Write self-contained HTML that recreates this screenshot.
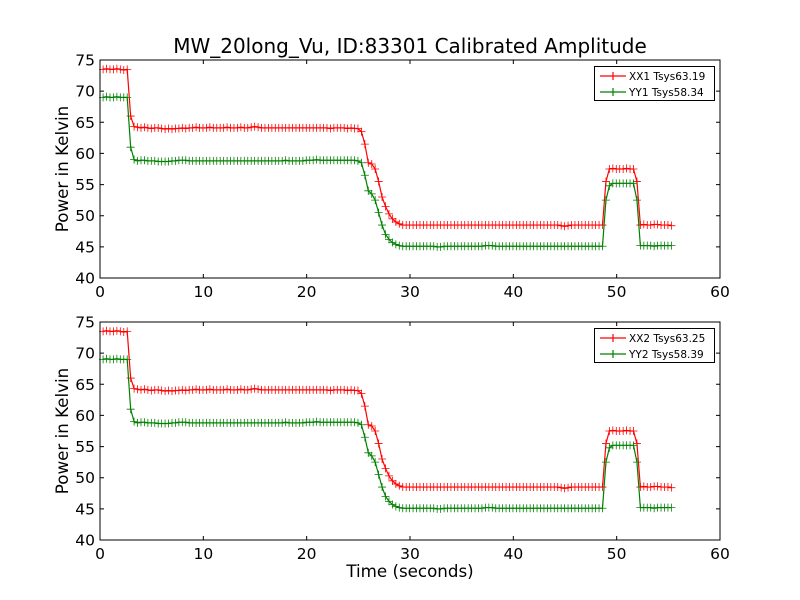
<!DOCTYPE html>
<html><head><meta charset="utf-8"><style>
body{margin:0;background:#fff;}
svg{display:block;font-family:"DejaVu Sans","Liberation Sans",sans-serif;}
</style></head><body>
<svg id="fig" width="800" height="600" viewBox="0 0 800 600">
<rect width="800" height="600" fill="#fff"/>
<text x="410" y="53" font-size="20" text-anchor="middle">MW_20long_Vu, ID:83301 Calibrated Amplitude</text>
<g id="p1"></g>
<g id="p2"></g>
<text x="410" y="577" font-size="16.7" text-anchor="middle">Time (seconds)</text>
</svg>
<script>
const xTicks=[0,10,20,30,40,50,60];
const yTicks=[40,45,50,55,60,65,70,75];
const t0=0.3, dt=0.3333;
const xx1=[73.5,73.6,73.5,73.5,73.6,73.5,73.4,73.5,66.0,64.3,
64.2,64.1,64.2,64.1,64.0,64.1,64.1,64.0,63.9,64.0,63.9,64.0,64.0,64.1,64.0,64.1,64.1,64.2,64.1,64.1,
64.1,64.2,64.1,64.1,64.1,64.1,64.2,64.1,64.1,64.1,64.2,64.1,64.1,64.2,64.3,64.2,64.1,64.1,64.1,64.1,
64.1,64.1,64.1,64.1,64.1,64.1,64.1,64.1,64.1,64.1,64.1,64.1,64.1,64.1,64.1,64.1,64.0,64.1,64.1,64.1,
64.1,64.0,64.1,64.0,64.0,
63.5,61.5,58.5,58.3,57.5,55.5,53.0,51.5,50.3,49.5,49.0,48.7,
48.5,48.5,48.5,48.5,48.5,48.5,48.5,48.5,48.5,48.5,48.5,48.5,48.5,48.5,48.5,48.5,48.5,48.5,48.5,48.5,
48.5,48.5,48.5,48.5,48.5,48.5,48.5,48.5,48.5,48.5,48.5,48.5,48.5,48.5,48.5,48.5,48.5,48.5,48.5,48.5,
48.5,48.5,48.5,48.5,48.5,48.5,48.4,48.3,48.4,48.5,48.5,48.5,48.5,48.5,48.5,48.5,48.5,48.5,48.5,
55.5,57.5,57.6,57.5,57.5,57.5,57.6,57.5,57.5,55.5,
48.5,48.6,48.5,48.5,48.6,48.6,48.5,48.5,48.5,48.4];
const yy1=[69.0,69.1,69.0,69.0,69.1,69.0,69.0,69.0,61.0,59.0,
58.8,58.9,58.9,58.8,58.8,58.8,58.7,58.7,58.7,58.7,58.8,58.8,58.9,58.9,58.9,58.8,58.8,58.8,58.8,58.8,
58.8,58.8,58.8,58.8,58.8,58.8,58.8,58.8,58.8,58.8,58.8,58.8,58.8,58.8,58.8,58.8,58.8,58.8,58.8,58.8,
58.8,58.8,58.8,58.9,58.8,58.8,58.8,58.8,58.8,58.9,58.9,58.9,59.0,58.9,58.9,58.9,58.9,58.9,58.9,58.9,
58.9,58.9,58.9,58.9,58.8,
58.5,56.5,54.0,53.5,52.5,50.5,48.5,47.0,46.2,45.7,45.4,45.2,
45.1,45.1,45.1,45.1,45.1,45.1,45.1,45.1,45.1,45.1,45.0,45.0,45.1,45.1,45.1,45.1,45.1,45.1,45.1,45.1,
45.1,45.1,45.1,45.1,45.2,45.2,45.2,45.1,45.1,45.1,45.1,45.1,45.1,45.1,45.1,45.1,45.1,45.1,45.1,45.1,
45.1,45.1,45.1,45.1,45.1,45.1,45.1,45.1,45.1,45.1,45.1,45.1,45.1,45.1,45.1,45.1,45.1,45.1,45.1,
52.5,54.8,55.2,55.2,55.2,55.2,55.2,55.2,55.2,52.5,
45.2,45.2,45.2,45.2,45.1,45.2,45.2,45.2,45.2,45.2];
const xx2=xx1.map(v=>v);
const yy2=yy1.map(v=>v);
const legend1=["XX1 Tsys63.19","YY1 Tsys58.34"];
const legend2=["XX2 Tsys63.25","YY2 Tsys58.39"];
const NS="http://www.w3.org/2000/svg";
function mk(tag,attrs,parent){const e=document.createElementNS(NS,tag);for(const k in attrs)e.setAttribute(k,attrs[k]);parent.appendChild(e);return e;}
function panel(g,top,s1,s2,leg){
  const L=100,R=720,T=top,B=top+218;
  const X=v=>L+(v-0)/(60-0)*(R-L);
  const Y=v=>B-(v-40)/(75-40)*(B-T);
  [[s1,"#ff0000","xx"],[s2,"#008000","yy"]].forEach(([s,c,n])=>{
    let d="";
    s.forEach((v,i)=>{d+=(i?"L":"M")+X(t0+i*dt).toFixed(2)+","+Y(v).toFixed(2);});
    const p=mk("path",{d:d,fill:"none",stroke:c,"stroke-width":1.2},g);
    
    
    let m="";
    s.forEach((v,i)=>{const x=X(t0+i*dt),y=Y(v);m+=`M${(x-4).toFixed(2)},${y.toFixed(2)}h8M${x.toFixed(2)},${(y-4).toFixed(2)}v8`;});
    const mp=mk("path",{d:m,fill:"none",stroke:c,"stroke-width":0.8},g);
    
    
  });
  const fr=mk("rect",{x:L,y:T,width:R-L,height:B-T,fill:"none",stroke:"#000","stroke-width":1},g);
  
  
  xTicks.forEach(v=>{
    const x=X(v);
    mk("path",{d:`M${x},${B}v-4M${x},${T}v4`,stroke:"#000","stroke-width":1},g);
    const tx=mk("text",{x:x,y:B+19,"font-size":15.5,"text-anchor":"middle"},g);tx.textContent=v;
    
    
  });
  yTicks.forEach(v=>{
    const y=Y(v);
    mk("path",{d:`M${L},${y}h4M${R},${y}h-4`,stroke:"#000","stroke-width":1},g);
    const ty=mk("text",{x:L-5,y:y+5.5,"font-size":15.5,"text-anchor":"end"},g);ty.textContent=v;
    
    
  });
  const cy=(T+B)/2;
  const yl=mk("text",{x:68,y:cy,"font-size":16.7,"text-anchor":"middle",transform:`rotate(-90 68 ${cy})`},g);
  yl.textContent="Power in Kelvin";
  
  
  const lg=mk("g",{},g);
  
  
  mk("rect",{x:594.5,y:T+6.5,width:120,height:34,fill:"#fff",stroke:"#000","stroke-width":1},lg);
  ["#ff0000","#008000"].forEach((c,i)=>{
    const y=T+16+i*16;
    mk("path",{d:`M600,${y}h26M613,${y-4}v8`,stroke:c,"stroke-width":1.2},lg);
    const lt=mk("text",{x:629,y:y+4,"font-size":10.5},lg);lt.textContent=leg[i];
    
    
  });
}
panel(document.getElementById("p1"),60,xx1,yy1,legend1);
panel(document.getElementById("p2"),322,xx2,yy2,legend2);
</script>
</body></html>
